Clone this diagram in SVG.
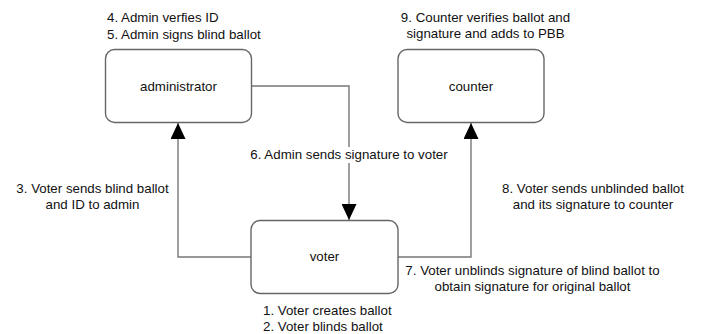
<svg xmlns="http://www.w3.org/2000/svg" width="701" height="334" viewBox="0 0 701 334">
<defs>
<marker id="arr" viewBox="0 0 16 15" refX="16" refY="7.5" markerWidth="16" markerHeight="15" markerUnits="userSpaceOnUse" orient="auto">
<path d="M0,0 L16,7.5 L0,15 Z" fill="#000"/>
</marker>
<style>
.box{fill:#fff;stroke:#666;stroke-width:1.4}
.edge{fill:none;stroke:#777;stroke-width:1.4}
text{font-family:"Liberation Sans",Arial,sans-serif;font-size:13.3px;fill:#111}
.c{text-anchor:middle}
</style>
</defs>
<rect width="701" height="334" fill="#fff"/>
<g id="connectors">
<polyline class="edge" points="252,86 349,86 349,220" marker-end="url(#arr)"/>
<polyline class="edge" points="251,257 178,257 178,123" marker-end="url(#arr)"/>
<polyline class="edge" points="398,257 471,257 471,123" marker-end="url(#arr)"/>
<rect x="246" y="147" width="206" height="16" fill="#fff"/>
<text class="c" x="349" y="159">6. Admin sends signature to voter</text>
<text class="c" x="92.5" y="193">3. Voter sends blind ballot</text>
<text class="c" x="92.5" y="209">and ID to admin</text>
<text class="c" x="593" y="193">8. Voter sends unblinded ballot</text>
<text class="c" x="593" y="209">and its signature to counter</text>
<text class="c" x="532.5" y="275">7. Voter unblinds signature of blind ballot to</text>
<text class="c" x="532.5" y="291">obtain signature for original ballot</text>
</g>
<g id="administrator">
<rect class="box" x="105.5" y="49.5" width="146" height="73" rx="9"/>
<text class="c" x="178.5" y="91">administrator</text>
<text x="107" y="22">4. Admin verfies ID</text>
<text x="107" y="39">5. Admin signs blind ballot</text>
</g>
<g id="counter">
<rect class="box" x="398" y="49.5" width="146" height="73" rx="9"/>
<text class="c" x="471" y="91">counter</text>
<text class="c" x="485.5" y="22">9. Counter verifies ballot and</text>
<text class="c" x="485.5" y="38">signature and adds to PBB</text>
</g>
<g id="voter">
<rect class="box" x="251" y="220.5" width="147" height="73" rx="9"/>
<text class="c" x="324.5" y="261">voter</text>
<text x="263" y="315">1. Voter creates ballot</text>
<text x="263" y="331">2. Voter blinds ballot</text>
</g>
</svg>
